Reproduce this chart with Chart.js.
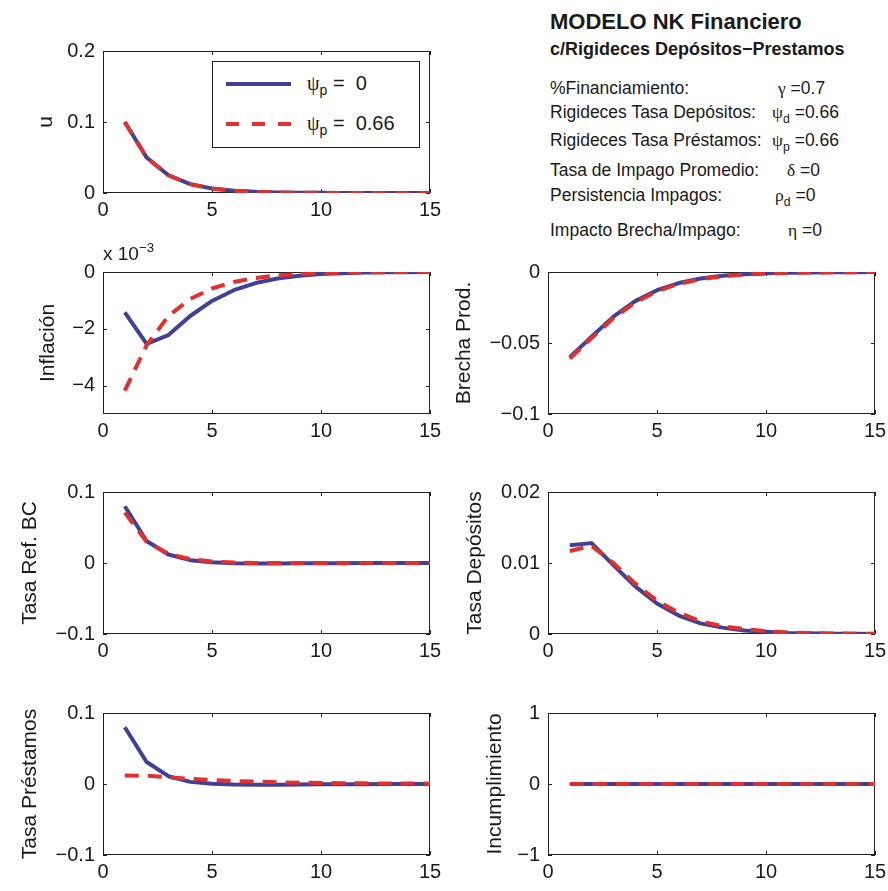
<!DOCTYPE html>
<html>
<head>
<meta charset="utf-8">
<script src="https://cdn.jsdelivr.net/npm/chart.js@4.4.0/dist/chart.umd.min.js"></script>
<style>
  body { margin: 0; background: #fff; }
  #page { position: relative; width: 888px; height: 891px; overflow: hidden;
          font-family: "Liberation Sans", Arial, sans-serif; color: #1a1a1a; }
  #page canvas { position: absolute; }
  .txt { position: absolute; white-space: nowrap; line-height: 20px; }
  .gr { font-family: "Liberation Serif", "DejaVu Serif", serif; }
  .par { font-size: 17.5px; }
  sub { font-size: 70%; vertical-align: -5px; line-height: 0; }
  sup { font-size: 70%; vertical-align: 8px; line-height: 0; }
  #legend { position: absolute; left: 212px; top: 61px; width: 206px; height: 85px;
            border: 1px solid #222; background: #fff; }
  #legend svg { position: absolute; left: 0; top: 0; }
  #legend .txt { font-size: 20px; left: 94px; }
</style>
</head>
<body>
<div id="page">
  <div class="txt" style="left:550px; top:10px; font-size:22px; font-weight:bold; line-height:24px">MODELO NK Financiero</div>
  <div class="txt" style="left:550px; top:38px; font-size:18px; font-weight:bold; line-height:22px">c/Rigideces Depósitos−Prestamos</div>

  <div class="txt par" style="left:550px; top:78px">%Financiamiento:</div>
  <div class="txt par" style="left:778px; top:78px"><span class="gr">γ</span> =0.7</div>
  <div class="txt par" style="left:550px; top:102px">Rigideces Tasa Depósitos:</div>
  <div class="txt par" style="left:772px; top:102px"><span class="gr">ψ</span><sub>d</sub> =0.66</div>
  <div class="txt par" style="left:550px; top:130px">Rigideces Tasa Préstamos:</div>
  <div class="txt par" style="left:772px; top:130px"><span class="gr">ψ</span><sub>p</sub> =0.66</div>
  <div class="txt par" style="left:550px; top:160px">Tasa de Impago Promedio:</div>
  <div class="txt par" style="left:787px; top:160px"><span class="gr">δ</span> =0</div>
  <div class="txt par" style="left:550px; top:185px">Persistencia Impagos:</div>
  <div class="txt par" style="left:775px; top:185px"><span class="gr">ρ</span><sub>d</sub> =0</div>
  <div class="txt par" style="left:550px; top:220px">Impacto Brecha/Impago:</div>
  <div class="txt par" style="left:788px; top:220px"><span class="gr">η</span> =0</div>

  <div class="txt" style="left:103px; top:244px; font-size:19px">x 10<sup>−3</sup></div>
</div>

<script>
// periods after the shock
const periods = [1, 2, 3, 4, 5, 6, 7, 8, 9, 10, 11, 12, 13, 14, 15];
const xTicks = [0, 5, 10, 15];

// blue: psi_p = 0, red: psi_p = 0.66
const uBase  = [0.1, 0.05, 0.025, 0.0125, 0.0063, 0.0031, 0.0016, 0.0008, 0.0004, 0.0002, 0.0001, 0.00005, 0.00002, 0.00001, 0];
const uRigid = [0.1, 0.05, 0.025, 0.0125, 0.0063, 0.0031, 0.0016, 0.0008, 0.0004, 0.0002, 0.0001, 0.00005, 0.00002, 0.00001, 0];
const uTicks = [0, 0.1, 0.2];

// inflation in units of 10^-3
const inflBase  = [-1.42, -2.53, -2.22, -1.55, -1.02, -0.64, -0.39, -0.23, -0.13, -0.07, -0.04, -0.02, -0.01, -0.005, 0];
const inflRigid = [-4.18, -2.58, -1.55, -0.95, -0.58, -0.35, -0.21, -0.12, -0.07, -0.04, -0.02, -0.01, -0.005, 0, 0];
const inflTicks = [-4, -2, 0];

const gapBase  = [-0.060, -0.0455, -0.0315, -0.0205, -0.0128, -0.0078, -0.0046, -0.0027, -0.0016, -0.0009, -0.0005, -0.0003, -0.0002, -0.0001, 0];
const gapRigid = [-0.061, -0.0465, -0.0325, -0.0215, -0.0135, -0.0084, -0.0051, -0.0030, -0.0018, -0.0010, -0.0006, -0.0004, -0.0002, -0.0001, 0];
const gapTicks = [-0.1, -0.05, 0];

const refBase  = [0.080, 0.031, 0.012, 0.004, 0.001, -0.0004, -0.0007, -0.0006, -0.0004, -0.0003, -0.0002, -0.0001, 0, 0, 0];
const refRigid = [0.071, 0.030, 0.013, 0.0055, 0.002, 0.0006, 0.0001, -0.0001, -0.0001, -0.0001, 0, 0, 0, 0, 0];
const refTicks = [-0.1, 0, 0.1];

const depBase  = [0.0125, 0.0128, 0.0097, 0.0067, 0.0043, 0.0026, 0.0015, 0.0009, 0.0005, 0.0003, 0.00015, 0.0001, 0.00005, 0.00003, 0.00001];
const depRigid = [0.0117, 0.0124, 0.0100, 0.0071, 0.0047, 0.0030, 0.0018, 0.0011, 0.0007, 0.0004, 0.0002, 0.00013, 0.00008, 0.00005, 0.00003];
const depTicks = [0, 0.01, 0.02];

const loanBase  = [0.080, 0.031, 0.011, 0.003, 0.0002, -0.0008, -0.001, -0.0009, -0.0007, -0.0005, -0.0003, -0.0002, -0.0001, 0, 0];
const loanRigid = [0.0120, 0.0116, 0.0095, 0.0072, 0.0057, 0.0043, 0.0033, 0.0025, 0.0019, 0.0014, 0.0011, 0.0009, 0.0007, 0.0006, 0.0005];
const loanTicks = [-0.1, 0, 0.1];

const defBase  = [0, 0, 0, 0, 0, 0, 0, 0, 0, 0, 0, 0, 0, 0, 0];
const defRigid = [0, 0, 0, 0, 0, 0, 0, 0, 0, 0, 0, 0, 0, 0, 0];
const defTicks = [-1, 0, 1];

const BLUE = '#40409a';
const RED = '#e3302c';
const INK = '#1a1a1a';

const PAD_L = 100, PAD_T = 22, PAD_R = 22, PAD_B = 36;
const PLOT_W = 327, PLOT_H = 142;

Chart.defaults.font.family = '"Liberation Sans", Arial, sans-serif';
Chart.defaults.color = INK;

function fmt(v) {
  if (v === 0) return '0';
  return (v < 0 ? '\u2212' : '') + String(+Math.abs(v).toFixed(4));
}

function toPoints(vals) {
  return periods.map((p, i) => ({ x: p, y: vals[i] }));
}

// matlab style box with ticks pointing inwards on all four sides
const boxTicks = {
  id: 'boxTicks',
  beforeDatasetsDraw(chart) {
    const { ctx, chartArea: a, scales: { x, y } } = chart;
    const L = 4;
    ctx.save();
    ctx.strokeStyle = '#222';
    ctx.lineWidth = 1;
    ctx.strokeRect(a.left + 0.5, a.top + 0.5, a.width - 1, a.height - 1);
    ctx.beginPath();
    x.ticks.forEach(t => {
      const px = Math.round(x.getPixelForValue(t.value)) + 0.5;
      ctx.moveTo(px, a.bottom); ctx.lineTo(px, a.bottom - L);
      ctx.moveTo(px, a.top); ctx.lineTo(px, a.top + L);
    });
    y.ticks.forEach(t => {
      const py = Math.round(y.getPixelForValue(t.value)) + 0.5;
      ctx.moveTo(a.left, py); ctx.lineTo(a.left + L, py);
      ctx.moveTo(a.right, py); ctx.lineTo(a.right - L, py);
    });
    ctx.stroke();
    ctx.restore();
  }
};

const page = document.getElementById('page');

function makePanel(left, top, label, labelOffset, base, rigid, yTicks, yMin, yMax) {
  const canvas = document.createElement('canvas');
  canvas.width = PAD_L + PLOT_W + PAD_R;
  canvas.height = PAD_T + PLOT_H + PAD_B;
  canvas.style.left = (left - PAD_L) + 'px';
  canvas.style.top = (top - PAD_T) + 'px';
  page.insertBefore(canvas, page.firstChild);

  new Chart(canvas, {
    type: 'line',
    data: {
      datasets: [
        { label: 'ψp = 0', data: toPoints(base), borderColor: BLUE, borderWidth: 4, order: 2 },
        { label: 'ψp = 0.66', data: toPoints(rigid), borderColor: RED, borderWidth: 4, borderDash: [14, 9], order: 1 }
      ]
    },
    options: {
      responsive: false,
      animation: false,
      layout: { padding: { left: 0, top: PAD_T, right: PAD_R, bottom: 0 } },
      elements: {
        point: { radius: 0 },
        line: { tension: 0, borderJoinStyle: 'round' }
      },
      plugins: { legend: { display: false }, tooltip: { enabled: false } },
      scales: {
        x: {
          type: 'linear', min: 0, max: 15,
          grid: { display: false, drawTicks: false },
          border: { display: false },
          afterBuildTicks: s => { s.ticks = xTicks.map(v => ({ value: v })); },
          afterFit: s => { s.height = PAD_B; },
          ticks: { padding: 5, font: { size: 20 }, color: INK, maxRotation: 0, autoSkip: false, callback: fmt }
        },
        y: {
          min: yMin, max: yMax,
          grid: { display: false, drawTicks: false },
          border: { display: false },
          afterBuildTicks: s => { s.ticks = yTicks.map(v => ({ value: v })); },
          afterFit: s => { s.width = PAD_L; },
          ticks: { padding: 8, font: { size: 20 }, color: INK, autoSkip: false, callback: fmt },
          title: {
            display: true, text: label, color: INK, font: { size: 21 },
            padding: { top: PAD_L - labelOffset - 12.6, bottom: 0 }
          }
        }
      }
    },
    plugins: [boxTicks]
  });
}

makePanel(103, 51,  'u',              57, uBase,    uRigid,    uTicks,    0,    0.2);
makePanel(103, 272, 'Inflación',      55, inflBase, inflRigid, inflTicks, -5,   0);
makePanel(548, 272, 'Brecha Prod.',   84, gapBase,  gapRigid,  gapTicks,  -0.1, 0);
makePanel(103, 492, 'Tasa Ref. BC',   73, refBase,  refRigid,  refTicks,  -0.1, 0.1);
makePanel(548, 492, 'Tasa Depósitos', 73, depBase,  depRigid,  depTicks,  0,    0.02);
makePanel(103, 713, 'Tasa Préstamos', 73, loanBase, loanRigid, loanTicks, -0.1, 0.1);
makePanel(548, 713, 'Incumplimiento', 53, defBase,  defRigid,  defTicks,  -1,   1);

// legend inside the top panel
const legend = document.createElement('div');
legend.id = 'legend';
legend.innerHTML =
  '<svg width="206" height="85">' +
  '<line x1="13" y1="22" x2="78" y2="22" stroke="' + BLUE + '" stroke-width="4"/>' +
  '<line x1="13" y1="62" x2="78" y2="62" stroke="' + RED + '" stroke-width="4" stroke-dasharray="13 13"/>' +
  '</svg>' +
  '<div class="txt" style="top:11px"><span class="gr">ψ</span><sub>p</sub> =&nbsp;&nbsp;0</div>' +
  '<div class="txt" style="top:51px"><span class="gr">ψ</span><sub>p</sub> =&nbsp;&nbsp;0.66</div>';
page.appendChild(legend);
</script>
</body>
</html>
